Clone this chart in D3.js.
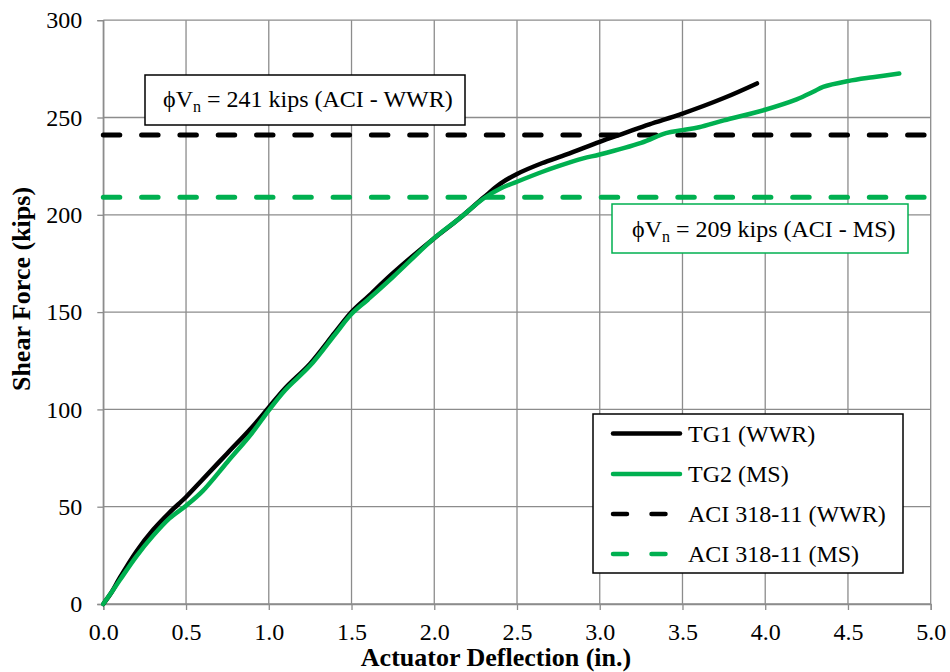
<!DOCTYPE html>
<html>
<head>
<meta charset="utf-8">
<script src="https://cdn.jsdelivr.net/npm/d3@7"></script>
<style>
  html, body { margin: 0; padding: 0; background: #fff; }
  svg text { font-family: "Liberation Serif", "Tinos", "DejaVu Serif", serif; }
</style>
</head>
<body>
<script>
// ---- data ----
const tg1Deflection = [0, 0.05, 0.1, 0.2, 0.3, 0.4, 0.5, 0.6, 0.75, 0.9, 1.0, 1.1, 1.25, 1.4, 1.5, 1.6, 1.75, 2.0, 2.15, 2.3, 2.4, 2.5, 2.65, 2.8, 3.0, 3.15, 3.3, 3.5, 3.75, 3.95];
const tg1Force      = [0, 6, 13.5, 27, 38, 47, 55, 64, 77.5, 91, 101, 111, 123.5, 139.5, 150, 158, 170, 188, 198, 209, 216, 221, 226.5, 231, 237.5, 242, 246.5, 252, 260, 267.5];

const tg2Deflection = [0, 0.05, 0.1, 0.2, 0.3, 0.4, 0.5, 0.6, 0.75, 0.9, 1.0, 1.1, 1.25, 1.4, 1.5, 1.6, 1.75, 2.0, 2.15, 2.3, 2.4, 2.5, 2.65, 2.75, 2.9, 3.0, 3.25, 3.4, 3.5, 3.6, 3.75, 4.0, 4.19, 4.29, 4.35, 4.5, 4.65, 4.81];
const tg2Force      = [0, 6, 12.3, 24.5, 35, 44, 50.5, 58, 73, 88, 99.5, 110, 122.5, 138.5, 149, 156.5, 168, 188, 198, 208.5, 213.5, 217, 222, 225, 229, 231, 237, 242, 243.5, 245, 248.5, 254, 259.3, 263.2, 265.7, 268.7, 270.7, 272.6];

const aciWWR = 241;
const aciMS = 209;

const xTickValues = [0, 0.5, 1.0, 1.5, 2.0, 2.5, 3.0, 3.5, 4.0, 4.5, 5.0];
const yTickValues = [0, 50, 100, 150, 200, 250, 300];

const legendLabels = ["TG1 (WWR)", "TG2 (MS)", "ACI 318-11 (WWR)", "ACI 318-11 (MS)"];

// ---- layout ----
const W = 950, H = 672;
const margin = { left: 103.3, right: 19.3, top: 20.2, bottom: 68 };
const BLACK = "#000000", GREEN = "#00B050", GRID = "#8c8c8c";
const FONT = "'Liberation Serif', 'Tinos', 'DejaVu Serif', serif";

const svg = d3.select("body").append("svg").attr("width", W).attr("height", H)
  .attr("font-family", FONT);

const x = d3.scaleLinear().domain([0, 5]).range([margin.left, W - margin.right]);
const y = d3.scaleLinear().domain([0, 300]).range([H - margin.bottom, margin.top]);

// gridlines
svg.append("g").selectAll("line").data(xTickValues).join("line")
  .attr("x1", d => x(d)).attr("x2", d => x(d))
  .attr("y1", y(0)).attr("y2", y(300))
  .attr("stroke", GRID).attr("stroke-width", 1.3);
svg.append("g").selectAll("line").data(yTickValues).join("line")
  .attr("x1", x(0)).attr("x2", x(5))
  .attr("y1", d => y(d)).attr("y2", d => y(d))
  .attr("stroke", GRID).attr("stroke-width", 1.3);

// axes
const xAxis = d3.axisBottom(x).tickValues(xTickValues).tickFormat(d3.format(".1f")).tickSizeOuter(0).tickSize(6).tickPadding(13);
const yAxis = d3.axisLeft(y).tickValues(yTickValues).tickFormat(d3.format("d")).tickSizeOuter(0).tickSize(6).tickPadding(15);

const gx = svg.append("g").attr("transform", `translate(0,${y(0)})`).call(xAxis);
const gy = svg.append("g").attr("transform", `translate(${x(0)},0)`).call(yAxis);
[gx, gy].forEach(g => {
  g.attr("font-family", FONT).attr("font-size", 24);
  g.select(".domain").attr("stroke", GRID).attr("stroke-width", 1.3);
  g.selectAll(".tick line").attr("stroke", GRID).attr("stroke-width", 1.3);
  g.selectAll(".tick text").attr("fill", "#000");
});

// axis titles
svg.append("text")
  .attr("x", 496).attr("y", 666)
  .attr("text-anchor", "middle")
  .attr("font-size", 26).attr("font-weight", "bold")
  .text("Actuator Deflection (in.)");
svg.append("text")
  .attr("transform", `translate(29.5,289) rotate(-90)`)
  .attr("text-anchor", "middle")
  .attr("font-size", 26).attr("font-weight", "bold")
  .text("Shear Force (kips)");

// ACI horizontal dashed lines
function hLine(val, color) {
  svg.append("line")
    .attr("x1", x(0)).attr("x2", x(5))
    .attr("y1", y(val)).attr("y2", y(val))
    .attr("stroke", color).attr("stroke-width", 5)
    .attr("stroke-dasharray", "16.5 21.8").attr("stroke-linecap", "round");
}
hLine(aciWWR, BLACK);
hLine(aciMS, GREEN);

// curves
const line = d3.line().x(d => x(d[0])).y(d => y(d[1])).curve(d3.curveCatmullRom.alpha(0.5));
const tg1 = d3.zip(tg1Deflection, tg1Force);
const tg2 = d3.zip(tg2Deflection, tg2Force);
svg.append("path").datum(tg1).attr("d", line)
  .attr("fill", "none").attr("stroke", BLACK).attr("stroke-width", 4.5)
  .attr("stroke-linecap", "round").attr("stroke-linejoin", "round");
svg.append("path").datum(tg2).attr("d", line)
  .attr("fill", "none").attr("stroke", GREEN).attr("stroke-width", 4.5)
  .attr("stroke-linecap", "round").attr("stroke-linejoin", "round");

// annotation boxes
function annot(bx, by, bw, bh, color, tx, ty, valueText) {
  svg.append("rect").attr("x", bx).attr("y", by).attr("width", bw).attr("height", bh)
    .attr("fill", "#fff").attr("stroke", color).attr("stroke-width", 1.5);
  const t = svg.append("text").attr("x", tx).attr("y", ty).attr("font-size", 24);
  t.append("tspan").text("\u03D5V");
  t.append("tspan").attr("dy", 5).attr("font-size", 16).text("n");
  t.append("tspan").attr("dy", -5).text(" = " + valueText);
}
annot(145, 75, 320, 50, BLACK, 163, 107, aciWWR + " kips (ACI - WWR)");
annot(612, 204, 296, 49, GREEN, 632, 236.5, aciMS + " kips (ACI - MS)");

// legend
const lg = svg.append("g");
lg.append("rect").attr("x", 593).attr("y", 414).attr("width", 310).attr("height", 159)
  .attr("fill", "#fff").attr("stroke", BLACK).attr("stroke-width", 1.5);
const legendItems = [
  { label: legendLabels[0], color: BLACK, dash: null },
  { label: legendLabels[1], color: GREEN, dash: null },
  { label: legendLabels[2], color: BLACK, dash: "14 24.5" },
  { label: legendLabels[3], color: GREEN, dash: "14 24.5" }
];
const rowY = [433.5, 474, 514, 554];
legendItems.forEach((it, i) => {
  const l = lg.append("line").attr("x1", 613).attr("x2", 680)
    .attr("y1", rowY[i]).attr("y2", rowY[i])
    .attr("stroke", it.color).attr("stroke-width", 4.5).attr("stroke-linecap", "round");
  if (it.dash) l.attr("stroke-dasharray", it.dash);
  lg.append("text").attr("x", 688).attr("y", rowY[i] + 8)
    .attr("font-size", 24).text(it.label);
});
</script>
</body>
</html>
